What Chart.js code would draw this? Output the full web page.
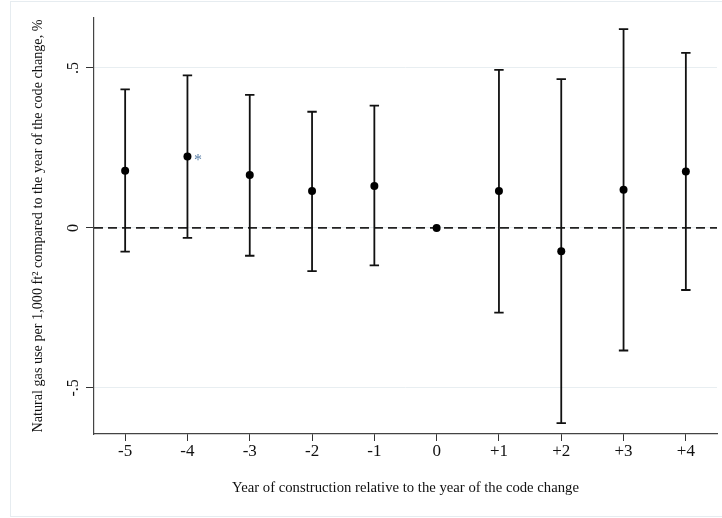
<!DOCTYPE html>
<html>
<head>
<meta charset="utf-8">
<script src="https://cdn.jsdelivr.net/npm/chart.js@4"></script>
<style>
  html, body { margin: 0; padding: 0; background: #fff; }
  #wrap { width: 722px; height: 518px; }
</style>
</head>
<body>
<div id="wrap"><canvas id="myChart" width="722" height="518"></canvas></div>
<script>
// event-study coefficients
const years = ["-5", "-4", "-3", "-2", "-1", "0", "+1", "+2", "+3", "+4"];
const estimates = [0.179, 0.223, 0.165, 0.115, 0.131, 0, 0.115, -0.073, 0.119, 0.176];
const ciLow = [-0.074, -0.031, -0.087, -0.135, -0.117, null, -0.265, -0.610, -0.383, -0.194];
const ciHigh = [0.433, 0.477, 0.416, 0.363, 0.382, null, 0.494, 0.465, 0.621, 0.547];
const stars = ["", "*", "", "", "", "", "", "", "", ""];
const yTicks = [-0.5, 0, 0.5];
const yTickLabels = ["-.5", "0", ".5"];

const serif = "'Liberation Serif', 'Times New Roman', serif";

// white background + light outer frame
const framePlugin = {
  id: "frame",
  beforeDraw(chart) {
    const ctx = chart.ctx;
    ctx.save();
    ctx.fillStyle = "#fff";
    ctx.fillRect(0, 0, chart.width, chart.height);
    ctx.strokeStyle = "#e6ecf0";
    ctx.lineWidth = 1;
    ctx.strokeRect(10.5, 1.5, chart.width, chart.height - 3);
    ctx.restore();
  }
};

// dashed zero line and confidence intervals
const errorBarPlugin = {
  id: "errorBars",
  beforeDatasetsDraw(chart) {
    const ctx = chart.ctx;
    const x = chart.scales.x;
    const y = chart.scales.y;
    const area = chart.chartArea;
    ctx.save();

    const y0 = y.getPixelForValue(0);
    ctx.strokeStyle = "#222";
    ctx.lineWidth = 1.8;
    ctx.setLineDash([9, 5]);
    ctx.beginPath();
    ctx.moveTo(area.left, y0);
    ctx.lineTo(area.right, y0);
    ctx.stroke();
    ctx.setLineDash([]);

    ctx.strokeStyle = "#111";
    ctx.lineWidth = 1.8;
    const cap = 4.7;
    years.forEach((lab, i) => {
      if (ciLow[i] === null) return;
      const px = x.getPixelForValue(i);
      const lo = y.getPixelForValue(ciLow[i]);
      const hi = y.getPixelForValue(ciHigh[i]);
      ctx.beginPath();
      ctx.moveTo(px, lo);
      ctx.lineTo(px, hi);
      ctx.moveTo(px - cap, lo);
      ctx.lineTo(px + cap, lo);
      ctx.moveTo(px - cap, hi);
      ctx.lineTo(px + cap, hi);
      ctx.stroke();
    });
    ctx.restore();
  },
  afterDatasetsDraw(chart) {
    const ctx = chart.ctx;
    const x = chart.scales.x;
    const y = chart.scales.y;
    ctx.save();
    ctx.fillStyle = "#5b80a8";
    ctx.font = "16px " + serif;
    ctx.textAlign = "left";
    ctx.textBaseline = "alphabetic";
    stars.forEach((s, i) => {
      if (!s) return;
      ctx.fillText(s, x.getPixelForValue(i) + 6.5, y.getPixelForValue(estimates[i]) + 8);
    });
    ctx.restore();
  }
};

// Stata-style rotated y tick labels
const yLabelPlugin = {
  id: "yLabels",
  afterDraw(chart) {
    const ctx = chart.ctx;
    const y = chart.scales.y;
    ctx.save();
    ctx.fillStyle = "#111";
    ctx.font = "16px " + serif;
    ctx.textAlign = "center";
    ctx.textBaseline = "alphabetic";
    yTicks.forEach((v, i) => {
      ctx.save();
      ctx.translate(78, y.getPixelForValue(v));
      ctx.rotate(-Math.PI / 2);
      ctx.fillText(yTickLabels[i], 0, 0);
      ctx.restore();
    });
    ctx.restore();
  }
};

new Chart(document.getElementById("myChart").getContext("2d"), {
  type: "line",
  data: {
    labels: years,
    datasets: [{
      data: estimates,
      showLine: false,
      pointRadius: 4,
      pointHoverRadius: 4,
      pointBackgroundColor: "#000",
      pointBorderColor: "#000",
      pointBorderWidth: 0
    }]
  },
  options: {
    responsive: false,
    animation: false,
    devicePixelRatio: 1,
    layout: { padding: { left: 0, top: 18, right: 5, bottom: 0 } },
    plugins: { legend: { display: false }, tooltip: { enabled: false } },
    scales: {
      x: {
        type: "category",
        offset: true,
        grid: { drawOnChartArea: false, offset: false, tickLength: 7, tickColor: "#333", tickWidth: 1 },
        border: { color: "#444", width: 1.2 },
        ticks: { color: "#111", font: { family: serif, size: 17 }, padding: 0, maxRotation: 0 },
        title: {
          display: true,
          text: "Year of construction relative to the year of the code change",
          color: "#111",
          font: { family: serif, size: 14.7 },
          padding: { top: 0, bottom: 21 }
        },
        afterFit(scale) { scale.height = 84; }
      },
      y: {
        min: -0.644,
        max: 0.656,
        afterBuildTicks(scale) { scale.ticks = yTicks.map(v => ({ value: v })); },
        grid: { color: "#e8eef1", tickColor: "#333", tickLength: 8, lineWidth: 1 },
        border: { color: "#444", width: 1.2 },
        ticks: { display: false },
        title: {
          display: true,
          text: "Natural gas use per 1,000 ft² compared to the year of the code change, %",
          color: "#111",
          font: { family: serif, size: 14.2 },
          padding: { top: 29.5, bottom: 0 }
        },
        afterFit(scale) { scale.width = 94; }
      }
    }
  },
  plugins: [framePlugin, errorBarPlugin, yLabelPlugin]
});
</script>
</body>
</html>
